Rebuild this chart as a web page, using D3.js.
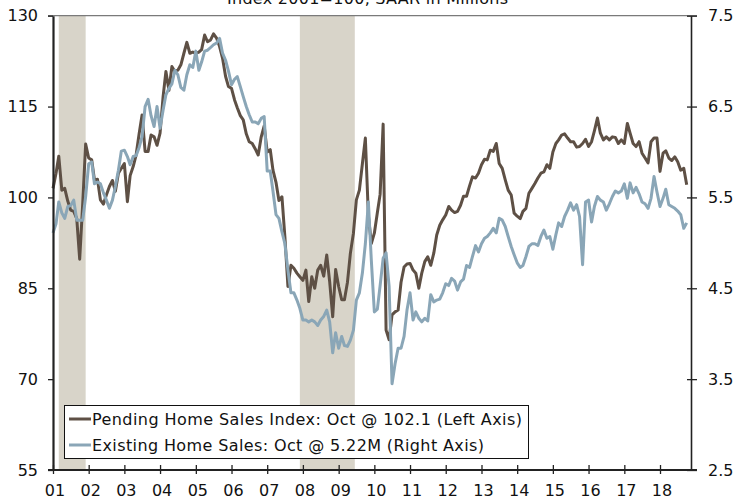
<!DOCTYPE html>
<html><head><meta charset="utf-8">
<script src="https://cdn.jsdelivr.net/npm/d3@7"></script>
<style>
html,body{margin:0;padding:0;background:#fff;}
svg{display:block;font-family:"DejaVu Sans",Verdana,sans-serif;}
</style></head><body>
<svg id="chart" width="735" height="502"></svg>
<script>
// ---------- DATA ----------
const startYear = 2001; // monthly data from Jan 2001 to Oct 2018
const pendingIndex = [
 101.5,104.0,106.8,101.2,101.5,99.4,97.9,97.7,96.5,89.8,99.0,108.8,
 106.5,106.2,102.9,103.0,99.6,98.9,100.4,101.8,102.8,101.0,104.0,104.8,
 105.6,99.3,103.6,105.1,107.0,110.5,113.6,107.6,107.6,110.3,110.0,108.6,
 110.6,116.6,120.8,117.7,121.6,120.8,121.0,121.9,123.8,125.6,123.8,124.0,
 123.8,124.0,124.4,126.8,125.7,126.0,127.0,126.3,124.9,123.0,120.0,118.3,
 118.0,116.1,114.8,113.5,112.8,110.5,109.2,108.9,108.0,107.0,110.0,111.8,
 107.5,107.9,104.5,102.5,99.5,100.1,93.5,85.3,88.8,88.3,87.5,86.9,
 86.3,88.0,82.8,86.9,85.0,88.0,88.8,87.0,90.5,86.1,80.3,88.1,
 85.3,83.1,83.1,86.0,90.8,94.1,99.6,101.2,105.6,109.8,97.0,92.4,
 94.1,97.5,100.5,112.1,78.1,76.5,80.6,81.1,81.4,86.0,88.5,89.0,
 89.1,88.0,87.5,85.0,87.5,89.4,90.2,88.8,90.8,93.8,95.4,96.3,
 97.1,98.5,97.9,97.5,97.7,98.7,100.2,100.2,101.9,103.4,103.2,104.0,
 105.4,106.3,106.2,107.8,107.6,108.9,105.6,104.8,102.9,101.2,100.4,97.4,
 96.9,96.5,97.7,98.2,100.7,101.5,102.3,103.2,104.0,104.2,105.4,104.8,
 107.5,108.9,109.5,110.3,110.5,109.8,109.2,109.2,108.3,108.4,108.9,109.6,
 108.4,109.2,111.0,113.1,110.6,109.5,110.0,109.5,110.0,109.9,108.9,109.5,
 108.9,112.2,110.6,108.9,108.4,109.2,107.3,106.5,105.7,109.2,109.8,109.8,
 104.3,107.3,107.7,106.5,106.1,106.7,105.9,104.5,104.8,102.1
];
const existingSales = [
 5.11,5.21,5.45,5.33,5.27,5.40,5.41,5.47,5.25,5.25,5.25,5.51,
 5.87,5.89,5.65,5.67,5.65,5.55,5.47,5.38,5.47,5.62,5.80,6.01,
 6.02,5.95,5.86,5.95,5.96,6.05,6.17,6.50,6.58,6.40,6.28,6.50,
 6.26,6.46,6.63,6.70,6.75,6.90,6.85,6.71,6.68,6.85,6.96,6.93,
 7.11,6.90,6.99,7.11,7.12,7.15,7.18,7.20,7.25,7.09,7.01,6.89,
 6.74,6.80,6.83,6.72,6.61,6.50,6.41,6.33,6.33,6.31,6.37,6.39,
 5.79,5.79,5.57,5.31,5.27,5.12,4.99,4.70,4.45,4.45,4.37,4.28,
 4.15,4.15,4.13,4.15,4.13,4.09,4.15,4.19,4.26,4.13,3.79,4.01,
 3.84,3.97,3.87,3.86,3.93,4.04,4.37,4.45,4.67,4.99,5.45,4.81,
 4.24,4.27,4.53,4.83,4.89,4.52,3.45,3.67,3.84,3.84,3.97,4.26,
 4.45,4.15,4.24,4.17,4.13,4.17,4.14,4.43,4.35,4.37,4.38,4.45,
 4.55,4.53,4.61,4.58,4.48,4.57,4.60,4.75,4.73,4.85,4.97,4.90,
 4.99,5.05,5.07,5.11,5.16,5.11,5.27,5.25,5.18,5.07,4.96,4.87,
 4.78,4.73,4.75,4.85,4.96,4.99,4.99,4.97,5.07,5.14,5.05,5.07,
 4.93,5.09,5.22,5.18,5.29,5.36,5.44,5.36,5.42,5.29,4.76,5.45,
 5.47,5.23,5.40,5.51,5.47,5.45,5.36,5.43,5.51,5.57,5.55,5.57,
 5.65,5.49,5.66,5.55,5.61,5.54,5.45,5.43,5.38,5.49,5.73,5.56,
 5.40,5.49,5.59,5.42,5.40,5.38,5.35,5.31,5.16,5.22
];
const leftTicks = [55, 70, 85, 100, 115, 130];
const rightTicks = [2.5, 3.5, 4.5, 5.5, 6.5, 7.5];
const yearTicks = d3.range(2001, 2019);
const recessions = [["2001-03-01", "2001-12-01"], ["2007-12-01", "2009-06-15"]];
const titleText = "Index 2001=100, SAAR in Millions";
const legendLabels = [
  "Pending Home Sales Index: Oct @ 102.1 (Left Axis)",
  "Existing Home Sales: Oct @ 5.22M (Right Axis)"
];

// ---------- STYLE ----------
const colBrown = "#5e5045", colBlue = "#8aa6b7", colShade = "#d8d4c9";
const L = 53, R = 691, T = 15.7, B = 470;
const legendWidths = [430, 392];

const svg = d3.select("#chart");
const parse = d3.timeParse("%Y-%m-%d");
const dates = pendingIndex.map((d, i) => new Date(startYear, i, 1));

const x = d3.scaleTime().domain([new Date(2001, 0, 1), new Date(2018, 10, 14)]).range([L, R]);
const yL = d3.scaleLinear().domain([55, 130]).range([B, T]);
const yR = d3.scaleLinear().domain([2.5, 7.5]).range([B, T]);

// recession shading
svg.append("g").selectAll("rect").data(recessions).join("rect")
  .attr("x", d => x(parse(d[0])))
  .attr("width", d => x(parse(d[1])) - x(parse(d[0])))
  .attr("y", T).attr("height", B - T)
  .attr("fill", colShade);

// title (partly above the top edge, as in the original)
svg.append("text").attr("x", 367.5).attr("y", 4).attr("text-anchor", "middle")
  .attr("font-size", 16).attr("fill", "#111")
  .attr("textLength", 281).attr("lengthAdjust", "spacing").text(titleText);

// top frame line
svg.append("line").attr("x1", L - 5).attr("x2", R + 6).attr("y1", T).attr("y2", T)
  .attr("stroke", "#7a7a7a").attr("stroke-width", 1.3);

// lines
const lineL = d3.line().x((d, i) => x(dates[i])).y(d => yL(d));
const lineR = d3.line().x((d, i) => x(dates[i])).y(d => yR(d));
svg.append("path").datum(pendingIndex).attr("d", lineL)
  .attr("fill", "none").attr("stroke", colBrown).attr("stroke-width", 3).attr("stroke-linejoin", "round");
svg.append("path").datum(existingSales).attr("d", lineR)
  .attr("fill", "none").attr("stroke", colBlue).attr("stroke-width", 3).attr("stroke-linejoin", "round");

// axes
function styleAxis(g, w) {
  g.select(".domain").attr("stroke", "#222").attr("stroke-width", w);
  g.selectAll(".tick line").attr("stroke", "#222").attr("stroke-width", 1.3);
  g.selectAll("text").attr("font-size", 16).attr("fill", "#111")
    .attr("font-family", '"DejaVu Sans",Verdana,sans-serif');
}
const gL = svg.append("g").attr("transform", `translate(${L},0)`)
  .call(d3.axisLeft(yL).tickValues(leftTicks).tickSizeInner(5).tickSizeOuter(0).tickPadding(10).tickFormat(d3.format("d")));
styleAxis(gL, 2.2);

const gR = svg.append("g").attr("transform", `translate(${R},0)`)
  .call(d3.axisRight(yR).tickValues(rightTicks).tickSizeInner(6).tickSizeOuter(0).tickPadding(11).tickFormat(d3.format(".1f")));
gR.selectAll(".tick line").attr("x1", -4);
styleAxis(gR, 1.6);

const gB = svg.append("g").attr("transform", `translate(0,${B})`)
  .call(d3.axisBottom(x).tickValues(yearTicks.map(yr => new Date(yr, 0, 1)))
    .tickSizeInner(4).tickSizeOuter(0).tickPadding(11).tickFormat(d3.timeFormat("%y")));
gB.selectAll(".tick line").attr("y1", -5);
gB.selectAll(".tick text").attr("dx", 1.5);
styleAxis(gB, 2.2);
gB.select(".domain").attr("d", `M${L - 5},0H${R + 6}`);

// legend
const lg = svg.append("g");
lg.append("rect").attr("x", 64.5).attr("y", 405.5).attr("width", 464).attr("height", 53)
  .attr("fill", "#fff").attr("stroke", "#111").attr("stroke-width", 1);
const legCols = [colBrown, colBlue];
legendLabels.forEach((t, i) => {
  const cy = 419 + i * 26;
  lg.append("line").attr("x1", 69).attr("x2", 91).attr("y1", cy).attr("y2", cy)
    .attr("stroke", legCols[i]).attr("stroke-width", 3);
  lg.append("text").attr("x", 92).attr("y", cy + 5.8).attr("font-size", 16).attr("fill", "#111")
    .attr("textLength", legendWidths[i]).attr("lengthAdjust", "spacing").text(t);
});
</script>
</body></html>
